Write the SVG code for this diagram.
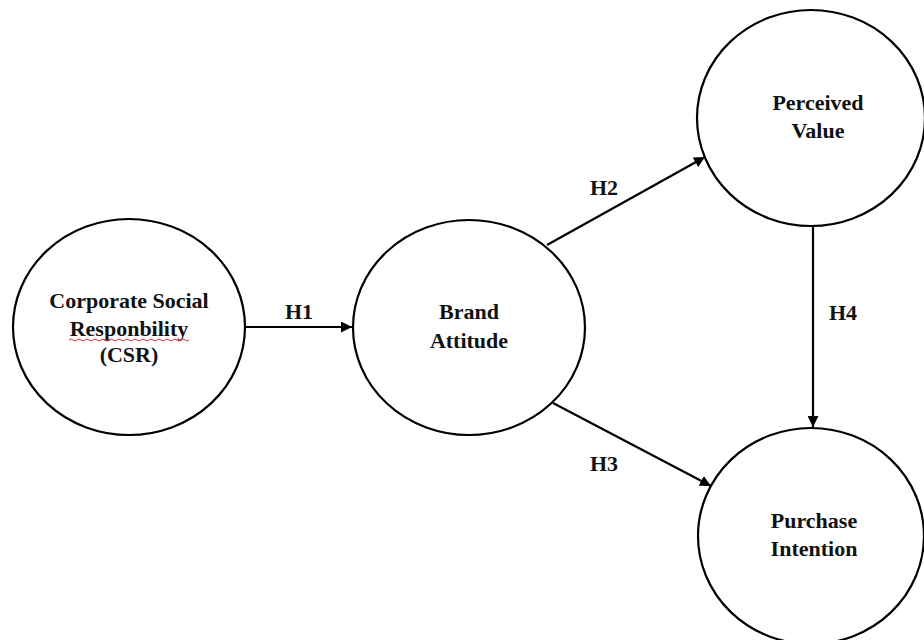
<svg xmlns="http://www.w3.org/2000/svg" width="924" height="640" viewBox="0 0 924 640">
<style>
.node{fill:#fff;stroke:#000;stroke-width:2.2}
.lbl{font-family:"Liberation Serif","Times New Roman",serif;font-weight:bold;font-size:22px;fill:#111;text-anchor:middle}
.edge{stroke:#000;stroke-width:2.2;fill:none}
</style>
<defs>
<marker id="arr" viewBox="0 0 10 10" refX="10" refY="5" markerWidth="5" markerHeight="5" orient="auto" markerUnits="strokeWidth">
<path d="M0,0 L10,5 L0,10 z" fill="#000"/>
</marker>
</defs>
<rect width="924" height="640" fill="#fff"/>
<g id="connectors">
<line class="edge" x1="245" y1="327" x2="352" y2="327" marker-end="url(#arr)"/>
<line class="edge" x1="547" y1="245" x2="705" y2="157" marker-end="url(#arr)"/>
<line class="edge" x1="553" y1="403" x2="711" y2="486" marker-end="url(#arr)"/>
<line class="edge" x1="813" y1="227" x2="813" y2="427" marker-end="url(#arr)"/>
<text class="lbl" x="299" y="319">H1</text>
<text class="lbl" x="604" y="195">H2</text>
<text class="lbl" x="604" y="471">H3</text>
<text class="lbl" x="843" y="320">H4</text>
</g>
<g id="csr">
<ellipse class="node" cx="129" cy="327" rx="116" ry="108"/>
<text class="lbl" x="129" y="308">Corporate Social</text>
<text class="lbl" x="129" y="336">Responbility</text>
<text class="lbl" x="129" y="362">(CSR)</text>
<path d="M69,340 q2,-2 4,0 t4,0 t4,0 t4,0 t4,0 t4,0 t4,0 t4,0 t4,0 t4,0 t4,0 t4,0 t4,0 t4,0 t4,0 t4,0 t4,0 t4,0 t4,0 t4,0 t4,0 t4,0 t4,0 t4,0 t4,0 t4,0 t4,0 t4,0 t4,0 t4,0" fill="none" stroke="#e03030" stroke-width="1"/>
</g>
<g id="brand">
<ellipse class="node" cx="469" cy="327.5" rx="116" ry="107.5"/>
<text class="lbl" x="469" y="319">Brand</text>
<text class="lbl" x="469" y="348">Attitude</text>
</g>
<g id="perceived">
<ellipse class="node" cx="811" cy="118" rx="114" ry="108"/>
<text class="lbl" x="818" y="110">Perceived</text>
<text class="lbl" x="818" y="138">Value</text>
</g>
<g id="purchase">
<ellipse class="node" cx="811" cy="536" rx="113" ry="108"/>
<text class="lbl" x="814" y="528">Purchase</text>
<text class="lbl" x="814" y="556">Intention</text>
</g>
</svg>
